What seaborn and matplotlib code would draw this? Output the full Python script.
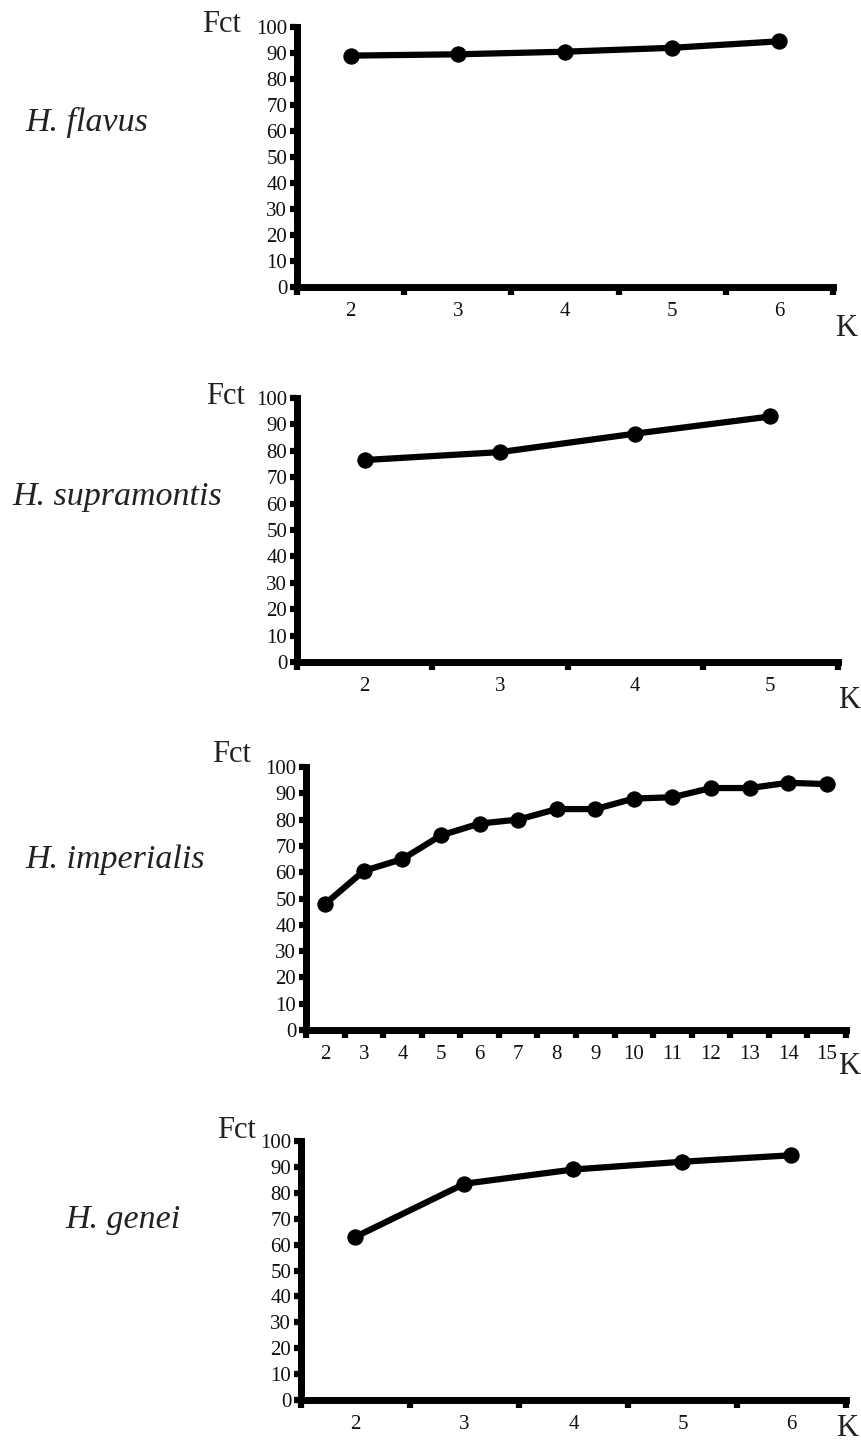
import numpy as np
import matplotlib
matplotlib.use("Agg")
import matplotlib.pyplot as plt
import pandas as pd
import seaborn as sns

# values
species = ["H. flavus", "H. supramontis", "H. imperialis", "H. genei"]
k_flavus = [2, 3, 4, 5, 6]
fct_flavus = [89, 89.5, 90.5, 92, 94.5]
k_supra = [2, 3, 4, 5]
fct_supra = [76.5, 79.5, 86.5, 93]
k_imper = [2, 3, 4, 5, 6, 7, 8, 9, 10, 11, 12, 13, 14, 15]
fct_imper = [48, 60.5, 65, 74, 78.5, 80, 84, 84, 88, 88.5, 92, 92, 94, 93.5]
k_genei = [2, 3, 4, 5, 6]
fct_genei = [63, 83.5, 89, 92, 94.5]
y_ticks = [0, 10, 20, 30, 40, 50, 60, 70, 80, 90, 100]

W, H = 862, 1441

sns.set_style("ticks")
plt.rcParams['font.family'] = ['Liberation Serif', 'DejaVu Serif']

fig = plt.figure(figsize=(W / 100, H / 100), dpi=100)

def fx(x):
    return x / W

def fy(y):
    return 1 - y / H

# pixel layout: left, right, y of 0, y of 100, species label (x, y), Fct (right x, y), K (x, y)
layout = [
    (297, 833, 287, 27, (25, 122), (241, 24), (835, 328)),
    (297, 838, 662, 398, (12, 497), (245, 397), (838, 700)),
    (306, 846, 1030, 767, (25, 860), (251, 754), (838, 1066)),
    (301, 846, 1400, 1141, (65, 1220), (256, 1131), (836, 1428)),
]
data = [(k_flavus, fct_flavus), (k_supra, fct_supra),
        (k_imper, fct_imper), (k_genei, fct_genei)]

for i in range(4):
    left, right, y0, y100, sp_pos, fct_pos, k_pos = layout[i]
    ks, vals = data[i]
    ax = fig.add_axes([fx(left), fy(y0), fx(right - left), (y0 - y100) / H])
    df = pd.DataFrame({"K": ks, "Fct": vals})
    sns.lineplot(data=df, x="K", y="Fct", ax=ax, color="black", linewidth=4.5,
                 marker="o", markersize=11, markeredgecolor="black")
    ax.set_xlim(ks[0] - 0.5, ks[-1] + 0.5)
    ax.set_ylim(0, 100)
    ax.set_yticks(y_ticks)
    ax.set_yticklabels([str(t) for t in y_ticks])
    ax.set_xticks(ks)
    ax.set_xticklabels([str(k) for k in ks])
    ax.set_xticks(np.arange(ks[0] - 0.5, ks[-1] + 0.6, 1), minor=True)
    ax.tick_params(axis="x", which="major", bottom=True, length=0, pad=11,
                   labelsize=15, labelcolor="#111111")
    ax.tick_params(axis="x", which="minor", bottom=True, length=6, width=4.5,
                   direction="out", color="black")
    ax.tick_params(axis="y", which="major", left=True, length=5, width=4.5,
                   direction="out", pad=2, labelsize=15, color="black",
                   labelcolor="#111111")
    ax.tick_params(axis="y", which="minor", left=False)
    for s in ["top", "right"]:
        ax.spines[s].set_visible(False)
    for s in ["left", "bottom"]:
        ax.spines[s].set_linewidth(5)
        ax.spines[s].set_color("black")
    ax.set_xlabel("")
    ax.set_ylabel("")
    ax.patch.set_alpha(0)

    fig.text(fx(sp_pos[0]), fy(sp_pos[1]), species[i], fontsize=24.5, style="italic",
             ha="left", va="center", color="#222222")
    fig.text(fx(fct_pos[0]), fy(fct_pos[1]), "Fct", fontsize=22,
             ha="right", va="center", color="#222222")
    fig.text(fx(k_pos[0]), fy(k_pos[1]), "K", fontsize=22,
             ha="left", va="center", color="#222222")

plt.savefig("out.png", dpi=100)
